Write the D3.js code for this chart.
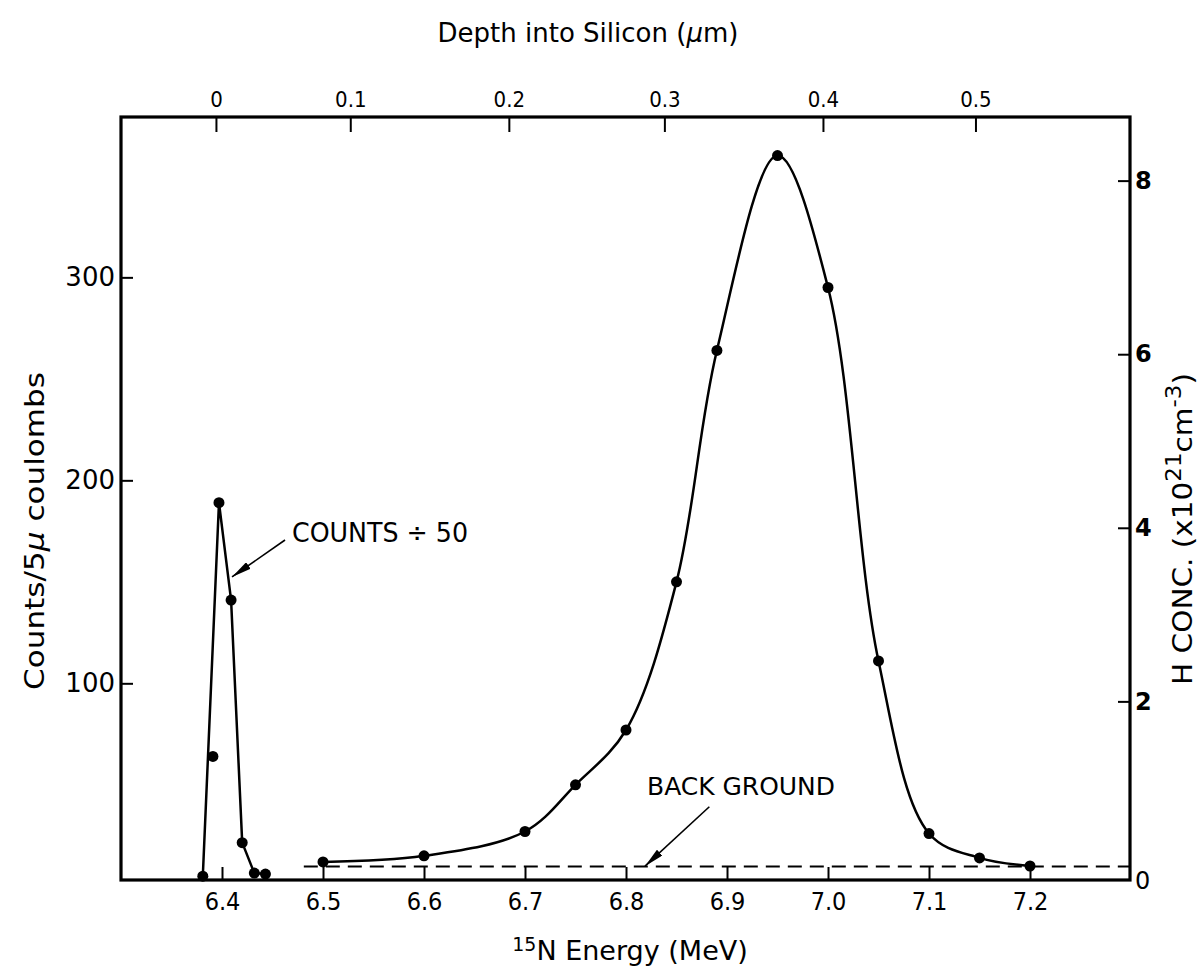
<!DOCTYPE html>
<html>
<head>
<meta charset="utf-8">
<script src="https://cdn.jsdelivr.net/npm/d3@7"></script>
<style>
  html, body { margin: 0; padding: 0; background: #fff; }
  svg { display: block; }
  text { fill: #000; font-family: "DejaVu Sans", sans-serif; }
  .cond text, text.cond { font-family: "DejaVu Sans Condensed", "DejaVu Sans", sans-serif; font-stretch: condensed; }
</style>
</head>
<body>
<svg id="chart" width="1202" height="973"></svg>
<script>
// 15N resonance profile: hydrogen in silicon
const energyTicks = [6.4, 6.5, 6.6, 6.7, 6.8, 6.9, 7.0, 7.1, 7.2];
const countTicks = [100, 200, 300];
const concTicks = [0, 2, 4, 6, 8];
const depthTicks = [0, 0.1, 0.2, 0.3, 0.4, 0.5];
// beam energy at which each depth tick falls
const depthEnergy = [6.394, 6.527, 6.684, 6.838, 6.995, 7.146];

// implanted-layer profile
const mainEnergy = [6.5, 6.6, 6.7, 6.75, 6.8, 6.85, 6.89, 6.95, 7.0, 7.05, 7.1, 7.15, 7.2];
const mainCounts = [12, 15, 27, 50, 77, 150, 264, 360, 295, 111, 26, 14, 10];

// surface peak (counts divided by 50)
const surfEnergy = [6.381, 6.391, 6.397, 6.409, 6.420, 6.432, 6.443];
const surfCounts = [5, 64, 189, 141, 21.5, 6.5, 6];
const surfOnLine = [true, false, true, true, true, true, true];

// background level
const bgEnergy = [6.481, 7.3];
const bgCount = 9.7;

const svg = d3.select("#chart");
const box = { left: 121, right: 1130, top: 117, bottom: 880 };

const x = d3.scaleLinear().domain([6.3, 7.299]).range([box.left, box.right]);
const y = d3.scaleLinear().domain([3.1, 379]).range([box.bottom, box.top]);
const yConc = d3.scaleLinear().domain([-0.058, 8.733]).range([box.bottom, box.top]);
const depth = d3.scaleLinear().domain(depthTicks).range(depthEnergy.map(e => x(e)));

// axes
const gB = svg.append("g").attr("class", "cond").attr("transform", `translate(0,${box.bottom})`)
  .call(d3.axisBottom(x).tickValues(energyTicks).tickFormat(d3.format(".1f")).tickSize(-13).tickPadding(12));
const gT = svg.append("g").attr("class", "cond").attr("transform", `translate(0,${box.top})`)
  .call(d3.axisTop(depth).tickValues(depthTicks).tickFormat(d => d === 0 ? "0" : d3.format(".1f")(d)).tickSize(-15).tickPadding(10));
const gL = svg.append("g").attr("transform", `translate(${box.left},0)`)
  .call(d3.axisLeft(y).tickValues(countTicks).tickSize(-12).tickPadding(6));
const gR = svg.append("g").attr("transform", `translate(${box.right},0)`)
  .call(d3.axisRight(yConc).tickValues(concTicks).tickSize(-12).tickPadding(5));

[gB, gT, gL, gR].forEach(g => {
  g.select(".domain").remove();
  g.selectAll(".tick line").attr("stroke", "#000").attr("stroke-width", 2);
  g.selectAll(".tick text").attr("fill", "#000");
});
gB.selectAll(".tick text").style("font-size", "25px");
gT.selectAll(".tick text").style("font-size", "22px");
gL.selectAll(".tick text").style("font-size", "26px");
gR.selectAll(".tick text").style("font-size", "24px").attr("font-weight", "bold");
gR.selectAll(".tick").filter(d => d === 0).select("text").attr("dy", "0.55em").attr("font-weight", "normal");
gR.selectAll(".tick").filter(d => d === 0).select("line").remove();

// frame
svg.append("rect")
  .attr("x", box.left).attr("y", box.top)
  .attr("width", box.right - box.left).attr("height", box.bottom - box.top)
  .attr("fill", "none").attr("stroke", "#000").attr("stroke-width", 3.2);

// background
svg.append("line")
  .attr("x1", x(bgEnergy[0])).attr("x2", x(bgEnergy[1]))
  .attr("y1", y(bgCount)).attr("y2", y(bgCount))
  .attr("stroke", "#000").attr("stroke-width", 2).attr("stroke-dasharray", "14,8");

// curves
const mainData = mainEnergy.map((e, i) => ({ e, c: mainCounts[i] }));
const surfData = surfEnergy.map((e, i) => ({ e, c: surfCounts[i], on: surfOnLine[i] }));

svg.append("path")
  .datum(mainData)
  .attr("fill", "none").attr("stroke", "#000").attr("stroke-width", 2.5)
  .attr("d", d3.line().x(d => x(d.e)).y(d => y(d.c)).curve(d3.curveCatmullRom.alpha(0.5)));

svg.append("path")
  .datum(surfData.filter(d => d.on))
  .attr("fill", "none").attr("stroke", "#000").attr("stroke-width", 2.5)
  .attr("stroke-linejoin", "round")
  .attr("d", d3.line().x(d => x(d.e)).y(d => y(d.c)).curve(d3.curveLinear));

svg.append("g").selectAll("circle")
  .data(mainData.concat(surfData))
  .join("circle")
  .attr("cx", d => x(d.e)).attr("cy", d => y(d.c)).attr("r", 5.5).attr("fill", "#000");

// annotations
svg.append("defs").append("marker")
  .attr("id", "head").attr("viewBox", "0 0 20 8").attr("refX", 20).attr("refY", 4)
  .attr("markerWidth", 20).attr("markerHeight", 8).attr("markerUnits", "userSpaceOnUse")
  .attr("orient", "auto")
  .append("path").attr("d", "M0,0 L20,4 L0,8 Z").attr("fill", "#000");

const notes = [
  { text: "COUNTS ÷ 50", te: 6.4693, tc: 169.6, from: [6.4624, 170.6], to: [6.4099, 152.4], len: 176, size: 27 },
  { text: "BACK GROUND", te: 6.8208, tc: 45, from: [6.8825, 39.2], to: [6.8188, 9.9], len: 188, size: 25 }
];
notes.forEach(n => {
  svg.append("text").attr("class", "cond")
    .attr("x", x(n.te)).attr("y", y(n.tc))
    .attr("textLength", n.len).attr("lengthAdjust", "spacingAndGlyphs")
    .style("font-size", n.size + "px").text(n.text);
  svg.append("line")
    .attr("x1", x(n.from[0])).attr("y1", y(n.from[1]))
    .attr("x2", x(n.to[0])).attr("y2", y(n.to[1]))
    .attr("stroke", "#000").attr("stroke-width", 1.6).attr("marker-end", "url(#head)");
});

// axis titles
svg.append("text")
  .attr("x", 588).attr("y", 42).attr("text-anchor", "middle")
  .style("font-size", "26px")
  .html('Depth into Silicon (<tspan font-style="italic">μ</tspan>m)');

const xt = svg.append("text")
  .attr("x", 630).attr("y", 960).attr("text-anchor", "middle")
  .style("font-size", "27px");
xt.append("tspan").attr("dy", "-9").style("font-size", "19px").text("15");
xt.append("tspan").attr("dy", "9").text("N Energy (MeV)");

svg.append("text")
  .attr("transform", `translate(44,531) rotate(-90)`).attr("text-anchor", "middle")
  .style("font-size", "27px")
  .attr("textLength", 318).attr("lengthAdjust", "spacingAndGlyphs")
  .html('Counts/5<tspan font-style="italic">μ</tspan> coulombs');

const rt = svg.append("text")
  .attr("transform", `translate(1192,529) rotate(-90)`).attr("text-anchor", "middle")
  .style("font-size", "27px")
  .attr("textLength", 312).attr("lengthAdjust", "spacingAndGlyphs");
rt.append("tspan").text("H CONC. (x10");
rt.append("tspan").attr("dy", "-11").style("font-size", "21px").text("21");
rt.append("tspan").attr("dy", "11").text("cm");
rt.append("tspan").attr("dy", "-11").style("font-size", "21px").text("-3");
rt.append("tspan").attr("dy", "11").text(")");
</script>
</body>
</html>
